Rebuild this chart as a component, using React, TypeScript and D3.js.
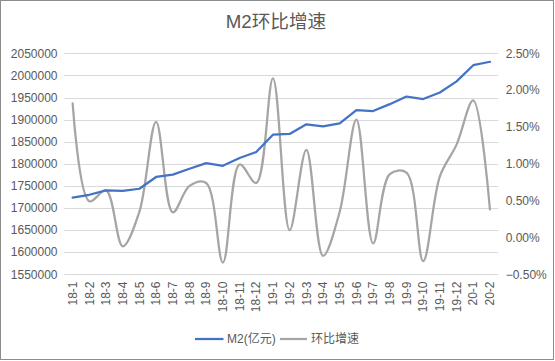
import React from "react";
import * as d3 from "d3";

const categories = ["18-1","18-2","18-3","18-4","18-5","18-6","18-7","18-8","18-9","18-10","18-11","18-12","19-1","19-2","19-3","19-4","19-5","19-6","19-7","19-8","19-9","19-10","19-11","19-12","20-1","20-2"];
const m2Values = [1723575,1729900,1739859,1738580,1743560,1770178,1775600,1788670,1801665,1795555,1813175,1826744,1865935,1867427,1889412,1884670,1891505,1921360,1919410,1934950,1952250,1946554,1961400,1986489,2023066,2030830];
const growthValues = [0.0182,0.0049,0.0064,-0.0012,0.0035,0.0157,0.0034,0.0070,0.0074,-0.0034,0.0099,0.0074,0.0216,0.0010,0.0119,-0.0025,0.0035,0.0160,-0.0008,0.0086,0.0088,-0.0032,0.0083,0.0126,0.0186,0.0038];
const leftTicks = [1550000,1600000,1650000,1700000,1750000,1800000,1850000,1900000,1950000,2000000,2050000];
const rightTicks = [-0.005,0,0.005,0.01,0.015,0.02,0.025];
const title = "M2环比增速";
const seriesNames = ["M2(亿元)", "环比增速"];

const W = 555, H = 361;
const plot = { left: 64.3, right: 498.3, top: 53.3, bottom: 274.3 };
const FONT = "'Liberation Sans', Arial, 'Noto Sans CJK SC', sans-serif";
const TXT = "#595959";
const BLUE = "#4472C4";
const GRAY = "#A5A5A5";

export default function App() {
  const x = d3.scaleBand<string>().domain(categories).range([plot.left, plot.right]).padding(0);
  const cx = (c: string) => (x(c) as number) + x.bandwidth() / 2;
  const yL = d3.scaleLinear().domain([1550000, 2050000]).range([plot.bottom, plot.top]);
  const yR = d3.scaleLinear().domain([-0.005, 0.025]).range([plot.bottom, plot.top]);

  const m2Line = d3.line<number>().x((_, i) => cx(categories[i])).y((d) => yL(d))(m2Values) || "";
  const gLine = d3.line<number>().x((_, i) => cx(categories[i])).y((d) => yR(d)).curve(d3.curveCatmullRom.alpha(0.5))(growthValues) || "";

  return (
    <svg width={W} height={H} style={{ display: "block", position: "absolute", left: 0, top: 0 }} fontFamily={FONT}>
      <rect x={0} y={0} width={W} height={H} fill="#fff" />
      <rect x={0.5} y={0.5} width={553} height={359} fill="#fff" stroke="#8c8c8c" strokeWidth={1} />
      <text x={276} y={28} textAnchor="middle" fontSize={18.67} fill={TXT}>{title}</text>
      {leftTicks.map((t) => (
        <g key={t}>
          <line x1={plot.left} x2={plot.right} y1={Math.round(yL(t)) + 0.5} y2={Math.round(yL(t)) + 0.5} stroke="#D9D9D9" strokeWidth={1} />
          <text x={57.5} y={yL(t)} dy="0.35em" textAnchor="end" fontSize={12} fill={TXT}>{t}</text>
        </g>
      ))}
      {rightTicks.map((t) => (
        <text key={t} x={505.7} y={yR(t)} dy="0.35em" textAnchor="start" fontSize={12} fill={TXT}>{d3.format(".2%")(t)}</text>
      ))}
      {categories.map((c) => (
        <text key={c} transform={`translate(${cx(c)},281.5) rotate(-90)`} dy="0.35em" textAnchor="end" fontSize={12} fill={TXT}>{c}</text>
      ))}
      <path d={gLine} fill="none" stroke={GRAY} strokeWidth={2.25} strokeLinejoin="round" strokeLinecap="round" />
      <path d={m2Line} fill="none" stroke={BLUE} strokeWidth={2.25} strokeLinejoin="round" strokeLinecap="round" />
      <g>
        <line x1={195} x2={223.5} y1={339} y2={339} stroke={BLUE} strokeWidth={2.25} />
        <text x={227} y={339} dy="0.35em" fontSize={12} fill={TXT}>{seriesNames[0]}</text>
        <line x1={280} x2={307} y1={339} y2={339} stroke={GRAY} strokeWidth={2.25} />
        <text x={311} y={339} dy="0.35em" fontSize={12} fill={TXT}>{seriesNames[1]}</text>
      </g>
    </svg>
  );
}
